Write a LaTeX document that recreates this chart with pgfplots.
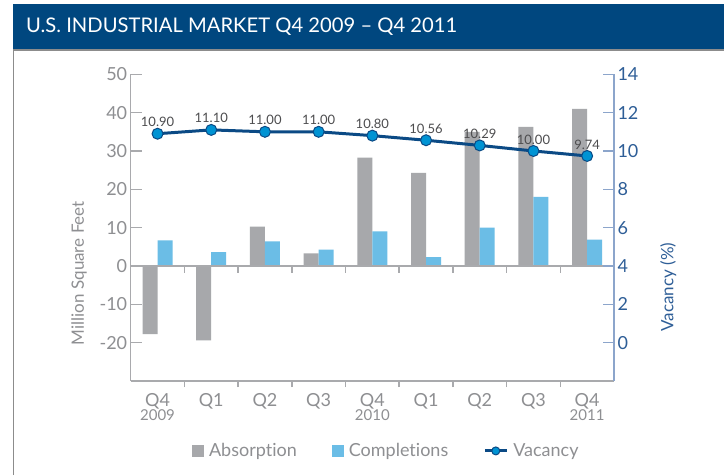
\documentclass[border=0pt]{standalone}
\usepackage{fontspec}
\setmainfont{Lato}[Ligatures=NoCommon]
\usepackage{pgfplots}
\usepackage{pgfplotstable}
\pgfplotsset{compat=1.18}
\definecolor{titleblue}{HTML}{00477F}
\definecolor{absgray}{HTML}{A7A8AB}
\definecolor{compblue}{HTML}{6BBDE6}
\definecolor{vacline}{HTML}{0B4A85}
\definecolor{vacfill}{HTML}{0093D3}
\definecolor{axgray}{HTML}{A9AAAD}
\definecolor{txtgray}{HTML}{8E8F92}
\definecolor{rblue}{HTML}{2E5E97}
\definecolor{raxis}{HTML}{8CA5CB}
\definecolor{lblgray}{HTML}{4D4D4F}
\definecolor{framegray}{HTML}{8C8C8C}

\pgfplotstableread{
x abs comp vac
0 -17.8 6.7 10.90
1 -19.4 3.6 11.10
2 10.3 6.4 11.00
3 3.3 4.3 11.00
4 28.3 9.0 10.80
5 24.3 2.3 10.56
6 35.0 10.0 10.29
7 36.3 18.0 10.00
8 41.0 6.9 9.74
}\datatable

\newcommand{\tickfont}{\fontsize{18}{18}\selectfont}
\begin{document}
\begin{tikzpicture}
\useasboundingbox (0pt,0pt) rectangle (724pt,475pt);
\fill[white] (0pt,0pt) rectangle (724pt,475pt);
\fill[titleblue] (12.7pt,425.7pt) rectangle (724pt,471pt);
\node[anchor=base west, text=white, inner sep=0pt, font=\fontsize{20.2}{20}\selectfont] at (26pt,442.7pt) {U.S. INDUSTRIAL MARKET Q4 2009 \textendash{} Q4 2011};
\draw[framegray, line width=1.5pt] (13.4pt,0pt) -- (13.4pt,424.9pt) -- (724pt,424.9pt);

\pgfplotsset{every axis/.append style={/pgf/number format/assume math mode=true}}

\begin{axis}[
  at={(130.7pt,94pt)}, anchor=south west, scale only axis,
  width=483.3pt, height=306.7pt,
  xmin=-0.5, xmax=8.5, ymin=-30, ymax=50,
  clip=false,
  axis x line*=bottom, axis y line*=left,
  axis line style={axgray, line width=1.5pt},
  ytick={-20,-10,...,50},
  tick align=inside, major tick length=11pt,
  ytick style={axgray, line width=1.5pt},
  yticklabel style={text=txtgray, font=\tickfont},
  xtick={0,...,8},
  xticklabels={{Q4\\[-4pt]{\fontsize{15}{15}\selectfont 2009}},Q1,Q2,Q3,{Q4\\[-4pt]{\fontsize{15}{15}\selectfont 2010}},Q1,Q2,Q3,{Q4\\[-4pt]{\fontsize{15}{15}\selectfont 2011}}},
  xticklabel style={align=center, text=txtgray, font=\tickfont, inner sep=1pt},
  major x tick style={draw=none},
  minor x tick num=1, minor tick length=6pt,
  minor x tick style={axgray, line width=1.5pt},
  ylabel={Million Square Feet},
  ylabel style={at={(rel axis cs:-0.107,0.352)}, anchor=center, text=txtgray, font=\fontsize{17}{17}\selectfont},
  ybar=0pt, bar width=15pt,
  legend style={at={(0.532,-0.228)}, anchor=center, draw=none, fill=none,
    legend columns=3, font=\fontsize{18}{18}\selectfont, text=txtgray,
    /tikz/every even column/.append style={column sep=30pt},
    nodes={inner xsep=5pt, inner ysep=2pt}},
  legend cell align=left,
]
\addplot[fill=absgray, draw=none,
  legend image code/.code={\fill[absgray] (0pt,-6pt) rectangle (12pt,6pt);}]
  table[x=x, y=abs] {\datatable};
\addlegendentry{Absorption}
\addplot[fill=compblue, draw=none,
  legend image code/.code={\fill[compblue] (0pt,-6pt) rectangle (12pt,6pt);}]
  table[x=x, y=comp] {\datatable};
\addlegendentry{Completions}
\addlegendimage{legend image code/.code={
  \draw[vacline, line width=3pt] (0pt,0pt) -- (22pt,0pt);
  \draw[vacline, fill=vacfill, line width=1pt] (11pt,0pt) circle (4pt);}}
\addlegendentry{Vacancy}
\draw[axgray, line width=1.5pt] (axis cs:-0.5,0) -- (axis cs:8.5,0);
\pgfplotsinvokeforeach{0.5,1.5,2.5,3.5,4.5,5.5,6.5,7.5}{
  \draw[axgray, line width=1.5pt] (axis cs:#1,0) -- ++(0pt,-7pt);
}
\end{axis}

\begin{axis}[
  at={(130.7pt,94pt)}, anchor=south west, scale only axis,
  width=483.3pt, height=306.7pt,
  xmin=-0.5, xmax=8.5, ymin=-2, ymax=14,
  clip=false,
  hide x axis,
  axis y line*=right,
  axis line style={raxis, line width=1.5pt},
  ytick={0,2,...,14},
  tick align=inside, major tick length=11pt,
  ytick style={raxis, line width=1.5pt},
  yticklabel style={text=rblue, font=\tickfont},
  ylabel={Vacancy (\%)},
  ylabel style={at={(rel axis cs:1.112,0.306)}, anchor=center, text=rblue, font=\fontsize{17}{17}\selectfont},
]
\addplot[vacline, line width=3pt, mark=*, mark size=5.5pt,
  mark options={fill=vacfill, draw=vacline, line width=1pt},
  nodes near coords={\pgfmathprintnumber[fixed,fixed zerofill,precision=2]{\pgfplotspointmeta}},
  every node near coord/.append style={anchor=south, yshift=3pt, text=lblgray, font=\fontsize{13}{13}\selectfont}]
  table[x=x, y=vac] {\datatable};
\end{axis}
\end{tikzpicture}
\end{document}
